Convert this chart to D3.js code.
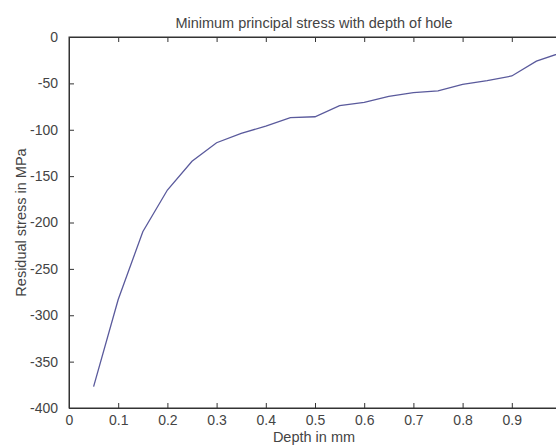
<!DOCTYPE html>
<html>
<head>
<meta charset="utf-8">
<script src="https://cdn.jsdelivr.net/npm/d3@7"></script>
<style>
  body { margin: 0; background: #fff; }
  text { font-family: "Liberation Sans", Arial, sans-serif; fill: #444; }
</style>
</head>
<body>
<div id="chart"></div>
<script>
var svgWidth = 556;
var svgHeight = 446;

// depth (mm) and minimum principal stress (MPa)
var depth = [0.05, 0.1, 0.15, 0.2, 0.25, 0.3, 0.35, 0.4, 0.45, 0.5, 0.55, 0.6, 0.65, 0.7, 0.75, 0.8, 0.85, 0.9, 0.95, 1.0];
var stress = [-377, -283, -210, -165, -134, -114, -104, -96, -87, -86, -74, -70.5, -64, -60, -58, -51, -47, -42, -26, -17];
var xTicks = [0, 0.1, 0.2, 0.3, 0.4, 0.5, 0.6, 0.7, 0.8, 0.9];
var yTicks = [0, -50, -100, -150, -200, -250, -300, -350, -400];

var margin = { top: 37, left: 69 };
// the axes box runs past the right edge of the picture, as in the original
var width = 492;
var height = 371;

var svg = d3.select("#chart")
  .append("svg")
  .attr("width", svgWidth)
  .attr("height", svgHeight);

var chartGroup = svg.append("g")
  .attr("transform", `translate(${margin.left}, ${margin.top})`);

var xScale = d3.scaleLinear().domain([0, 1]).range([0, width]);
var yScale = d3.scaleLinear().domain([-400, 0]).range([height, 0]);

// box
chartGroup.append("rect")
  .attr("width", width)
  .attr("height", height)
  .attr("fill", "none")
  .attr("stroke", "#333")
  .attr("stroke-width", 1);

// bottom axis, ticks pointing inwards
var xAxis = d3.axisBottom(xScale).tickValues(xTicks).tickSize(-5).tickPadding(7)
  .tickFormat(d => d === 0 ? "0" : d3.format(".1f")(d));
var xg = chartGroup.append("g")
  .attr("transform", `translate(0, ${height})`)
  .call(xAxis);

// top axis ticks only
var xTop = d3.axisTop(xScale).tickValues(xTicks.slice(1)).tickSize(-5).tickFormat("");
var tg = chartGroup.append("g").call(xTop);

var yAxis = d3.axisLeft(yScale).tickValues(yTicks).tickSize(-5).tickPadding(11)
  .tickFormat(d => String(d));
var yg = chartGroup.append("g").call(yAxis);

[xg, tg, yg].forEach(function(g) {
  g.select(".domain").attr("stroke", "#333");
  g.selectAll(".tick line").attr("stroke", "#333");
  g.selectAll(".tick text")
    .style("font-size", "14px")
    .style("font-family", "'Liberation Sans', Arial, sans-serif")
    .attr("fill", "#444");
});
yg.selectAll(".tick line").filter(d => d === 0 || d === -400).remove();
xg.selectAll(".tick line").filter(d => d === 0).remove();

// the curve
var line = d3.line()
  .x((d, i) => xScale(depth[i]))
  .y(d => yScale(d));

chartGroup.append("path")
  .datum(stress)
  .attr("fill", "none")
  .attr("stroke", "#5a5a9c")
  .attr("stroke-width", 1.3)
  .attr("d", line);

// labels
svg.append("text")
  .attr("x", 314)
  .attr("y", 28)
  .attr("text-anchor", "middle")
  .style("font-size", "14.5px")
  .text("Minimum principal stress with depth of hole");

svg.append("text")
  .attr("x", 314)
  .attr("y", 442)
  .attr("text-anchor", "middle")
  .style("font-size", "14.5px")
  .text("Depth in mm");

svg.append("text")
  .attr("transform", "rotate(-90)")
  .attr("x", -(margin.top + height / 2))
  .attr("y", 26)
  .attr("text-anchor", "middle")
  .style("font-size", "14.5px")
  .text("Residual stress in MPa");
</script>
</body>
</html>
